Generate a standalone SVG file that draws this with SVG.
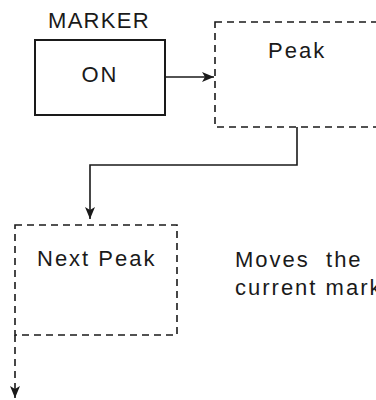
<svg xmlns="http://www.w3.org/2000/svg" width="376" height="400" viewBox="0 0 376 400">
<style>
text{font-family:"Liberation Sans",Arial,sans-serif;fill:#1a1a1a;font-size:22px;letter-spacing:2px}
.solid{fill:none;stroke:#1a1a1a;stroke-width:2}
.dash{fill:none;stroke:#1a1a1a;stroke-width:1.6;stroke-dasharray:7 5}
.line{fill:none;stroke:#1a1a1a;stroke-width:1.6}
</style>
<defs>
<marker id="ah" viewBox="0 0 12 10" refX="12" refY="5" markerWidth="12" markerHeight="10" markerUnits="userSpaceOnUse" orient="auto">
<path d="M0,0 L12,5 L0,10 L3,5 Z" fill="#1a1a1a"/>
</marker>
</defs>
<g id="marker-on">
<text x="48" y="28" style="letter-spacing:1.3px">MARKER</text>
<rect class="solid" x="35" y="40" width="130" height="75"/>
<text x="100" y="82" text-anchor="middle">ON</text>
</g>
<g id="peak">
<rect class="dash" x="215" y="22" width="180" height="105"/>
<text x="268" y="58">Peak</text>
</g>
<g id="next-peak">
<rect class="dash" x="15" y="225" width="162" height="110"/>
<text x="37" y="266">Next Peak</text>
</g>
<g id="description">
<text x="235" y="267" xml:space="preserve">Moves  the</text>
<text x="235" y="295">current mark</text>
</g>
<g id="connectors">
<line class="line" x1="165" y1="77" x2="214" y2="77" marker-end="url(#ah)"/>
<polyline class="line" points="297,127 297,165 90,165 90,219" marker-end="url(#ah)"/>
<line class="dash" x1="15" y1="335" x2="15" y2="398" marker-end="url(#ah)"/>
</g>
</svg>
